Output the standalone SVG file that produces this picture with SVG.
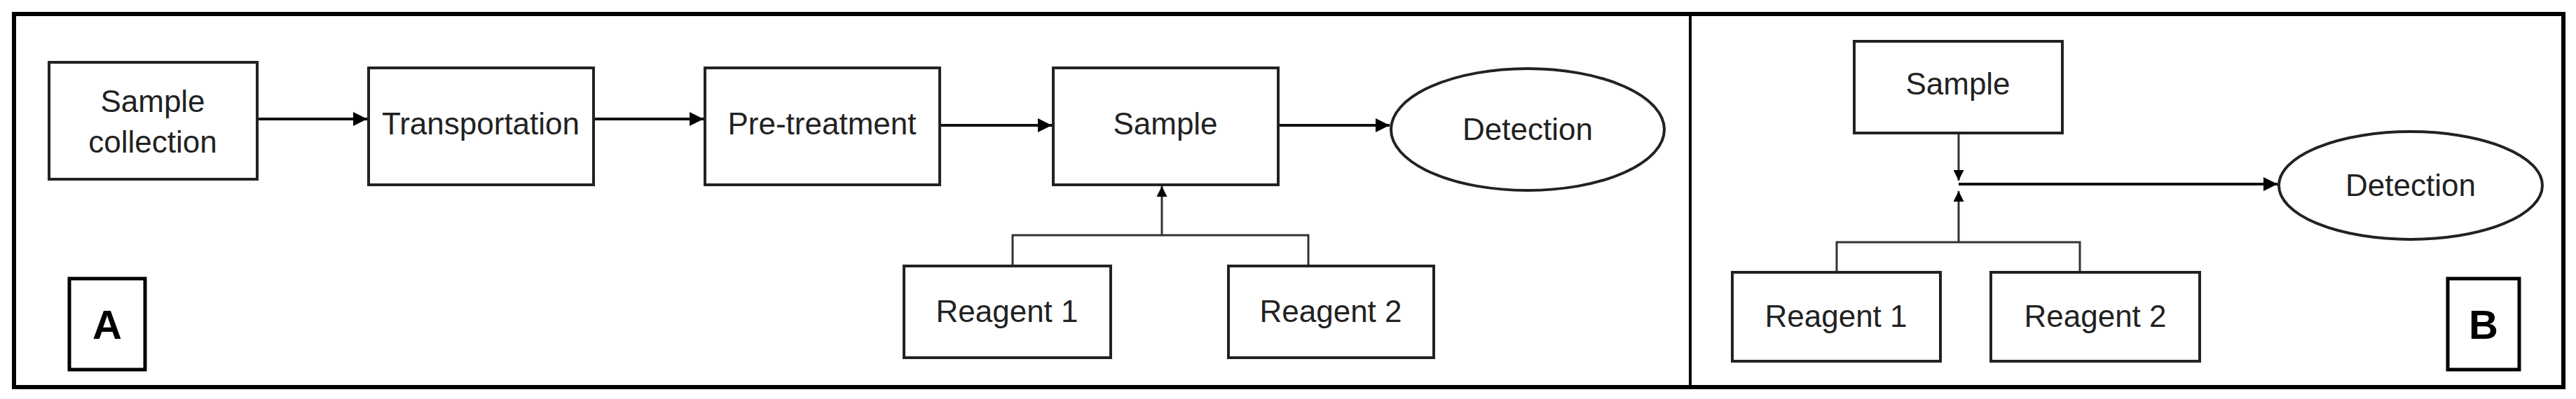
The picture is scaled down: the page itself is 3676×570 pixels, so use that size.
<svg xmlns="http://www.w3.org/2000/svg" width="3676" height="570" viewBox="0 0 3676 570">
<style>
.box{fill:#fff;stroke:#222;stroke-width:4}
.lbl{fill:#fff;stroke:#000;stroke-width:5}
text{font-family:"Liberation Sans",Arial,sans-serif;font-size:44px;fill:#222;text-anchor:middle}
.big{font-size:58px;font-weight:bold;fill:#000}
.ln{fill:none;stroke:#111;stroke-width:4}
.thin{fill:none;stroke:#333;stroke-width:3}
</style>
<defs>
<marker id="ah" viewBox="0 0 10 10" refX="10" refY="5" markerWidth="5" markerHeight="5" orient="auto-start-reverse" markerUnits="strokeWidth">
<path d="M0,0 L10,5 L0,10 z" fill="#000"/>
</marker>
</defs>
<rect x="0" y="0" width="3676" height="570" fill="#fff"/>
<rect x="20" y="20" width="3638" height="533" fill="none" stroke="#000" stroke-width="6"/>
<line x1="2412" y1="20" x2="2412" y2="553" stroke="#000" stroke-width="4"/>

<g id="edges">
<line class="ln" x1="367" y1="170" x2="524" y2="170" marker-end="url(#ah)"/>
<line class="ln" x1="847" y1="170" x2="1004" y2="170" marker-end="url(#ah)"/>
<line class="ln" x1="1341" y1="179" x2="1501" y2="179" marker-end="url(#ah)"/>
<line class="ln" x1="1824" y1="179" x2="1983" y2="179" marker-end="url(#ah)"/>
<polyline class="thin" points="1445,380 1445,336 1867,336 1867,380"/>
<line class="thin" x1="1658" y1="336" x2="1658" y2="266" marker-end="url(#ah)"/>
<line class="thin" x1="2795" y1="190" x2="2795" y2="258" marker-end="url(#ah)"/>
<line class="ln" x1="2795" y1="263" x2="3250" y2="263" marker-end="url(#ah)"/>
<polyline class="thin" points="2621,389 2621,346 2968,346 2968,389"/>
<line class="thin" x1="2795" y1="346" x2="2795" y2="273" marker-end="url(#ah)"/>
</g>

<g id="a-sample-collection"><rect class="box" x="70" y="89" width="297" height="167"/><text x="218" y="160">Sample</text><text x="218" y="218">collection</text></g>
<g id="a-transportation"><rect class="box" x="526" y="97" width="321" height="167"/><text x="686" y="192">Transportation</text></g>
<g id="a-pretreatment"><rect class="box" x="1006" y="97" width="335" height="167"/><text x="1173" y="192">Pre-treatment</text></g>
<g id="a-sample"><rect class="box" x="1503" y="97" width="321" height="167"/><text x="1663" y="192">Sample</text></g>
<g id="a-detection"><ellipse class="box" cx="2180" cy="185" rx="195" ry="87"/><text x="2180" y="200">Detection</text></g>
<g id="a-reagent1"><rect class="box" x="1290" y="380" width="295" height="131"/><text x="1437" y="460">Reagent 1</text></g>
<g id="a-reagent2"><rect class="box" x="1753" y="380" width="293" height="131"/><text x="1899" y="460">Reagent 2</text></g>
<g id="label-a"><rect class="lbl" x="99" y="398" width="108" height="130"/><text class="big" x="153" y="484">A</text></g>

<g id="b-sample"><rect class="box" x="2646" y="59" width="297" height="131"/><text x="2794" y="135">Sample</text></g>
<g id="b-detection"><ellipse class="box" cx="3440" cy="265" rx="188" ry="77"/><text x="3440" y="280">Detection</text></g>
<g id="b-reagent1"><rect class="box" x="2472" y="389" width="297" height="127"/><text x="2620" y="467">Reagent 1</text></g>
<g id="b-reagent2"><rect class="box" x="2841" y="389" width="298" height="127"/><text x="2990" y="467">Reagent 2</text></g>
<g id="label-b"><rect class="lbl" x="3493" y="398" width="102" height="130"/><text class="big" x="3544" y="484">B</text></g>
</svg>
